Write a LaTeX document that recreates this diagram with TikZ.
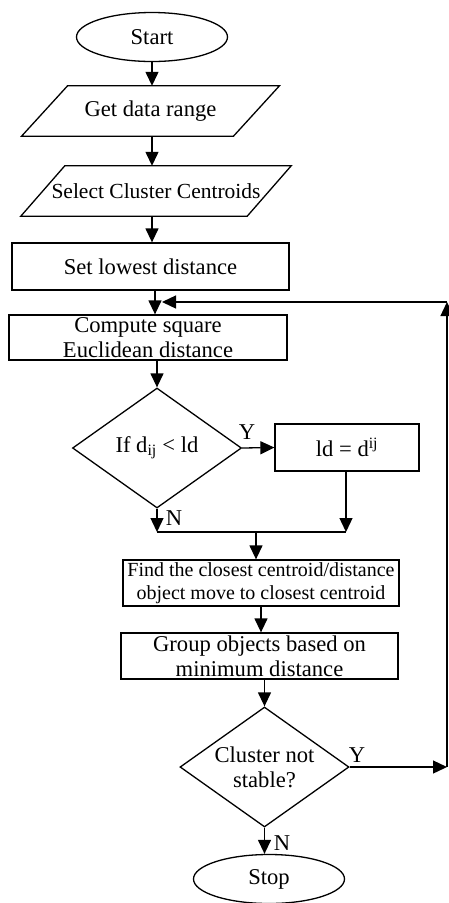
\documentclass[tikz,border=0pt]{standalone}
\usepackage{fontspec}
\setmainfont{Liberation Serif}
\usetikzlibrary{shapes.geometric,arrows.meta}
\begin{document}
\begin{tikzpicture}[x=1pt,y=-1pt,
  every node/.style={font=\fontsize{22.6}{25}\selectfont, inner sep=0pt, align=center},
  box/.style={draw, rectangle, line width=1.3pt},
  term/.style={draw, ellipse, line width=1.3pt, minimum width=151pt, minimum height=49pt},
  para/.style={rectangle},
  dec/.style={draw, diamond, aspect=1.42, line width=1.3pt, minimum width=169pt, minimum height=120pt},
  arr/.style={-{Triangle[length=14pt,width=13pt]}, line width=1.3pt},
  lin/.style={line width=1.3pt}
]
\useasboundingbox (0,0) rectangle (449,903);

\node[term] (start) at (152,37) {Start};
\node[para, minimum width=211.5pt, minimum height=50pt] (get) at (150.5,111) {Get data range};
\draw[lin] ([xshift=23pt]get.north west) -- ([xshift=23pt]get.north east) -- ([xshift=-23pt]get.south east) -- ([xshift=-23pt]get.south west) -- cycle;
\node[para, minimum width=226pt, minimum height=50pt, font=\fontsize{21.5}{24}\selectfont] (sel) at (156,191) {Select Cluster Centroids};
\draw[lin] ([xshift=22pt]sel.north west) -- ([xshift=22pt]sel.north east) -- ([xshift=-22pt]sel.south east) -- ([xshift=-22pt]sel.south west) -- cycle;
\node[box, minimum width=277pt, minimum height=47pt] (set) at (150.5,266.5) {Set lowest distance};
\node[box, minimum width=278pt, minimum height=45pt] (comp) at (148,337.5) {Compute square\\Euclidean distance};
\node[dec] (d1) at (157,448) {If d\textsubscript{ij} < ld};
\node[box, minimum width=144pt, minimum height=47pt] (ld) at (347,447.5) {ld = d\textsuperscript{ij}};
\node[box, minimum width=276pt, minimum height=46pt, font=\fontsize{20}{23}\selectfont] (find) at (261,583) {Find the closest centroid/distance\\object move to closest centroid};
\node[box, minimum width=277pt, minimum height=46pt] (grp) at (259.5,656) {Group objects based on\\minimum distance};
\node[dec] (d2) at (264.5,767) {Cluster not\\stable?};
\node[term] (stop) at (269,879) {Stop};

\node (y1) at (247,432) {Y};
\node (n1) at (174,518) {N};
\node (y2) at (357,755) {Y};
\node (n2) at (282,843) {N};

\coordinate (j) at (155,302);
\coordinate (rb) at (447,767);
\coordinate (rt) at (447,302);
\coordinate (lp) at (162,302);
\coordinate (mL) at (157,532);
\coordinate (mR) at (346,532);
\coordinate (mM) at (256,532);

\draw[arr] (start.south) -- (start.south |- get.north);
\draw[arr] (start.south |- get.south) -- (start.south |- sel.north);
\draw[arr] (start.south |- sel.south) -- (start.south |- set.north);
\draw[arr] (set.south -| j) -- (comp.north -| j);
\draw[arr] (comp.south -| d1.north) -- (d1.north);
\draw[arr] (d1.east) -- (ld.west);
\draw[arr] (d1.south) -- (mL);
\draw[arr] (ld.south -| mR) -- (mR);
\draw[lin] (mL) -- (mR);
\draw[arr] (mM) -- (mM |- find.north);
\draw[arr] (find.south) -- (find.south |- grp.north);
\draw[arr] (grp.south -| d2.north) -- (d2.north);
\draw[arr] (d2.south) -- (d2.south |- stop.north);
\draw[arr] (d2.east) -- (rb);
\draw[arr] (rb) -- (rt);
\draw[arr] (rt) -- (lp);
\end{tikzpicture}
\end{document}
